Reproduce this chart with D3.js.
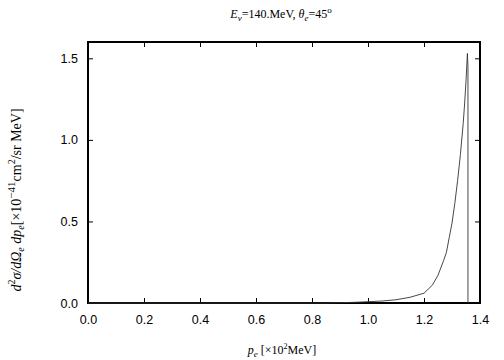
<!DOCTYPE html>
<meta charset="utf-8">
<script src="https://d3js.org/d3.v7.min.js"></script>
<style>
  body { margin: 0; background: #fff; }
  .tick text { font-family: "Liberation Sans", Arial, sans-serif; font-size: 12.5px; }
  .lbl { font-family: "Liberation Serif", "Times New Roman", serif; font-size: 12px; }
</style>
<div id="chart"></div>
<script>
  // curve: p_e in 10^2 MeV, cross section in 10^-41 cm^2/sr MeV
  const pe = [0.0, 0.85, 0.90, 0.95, 1.00, 1.05, 1.10, 1.15, 1.20, 1.23, 1.25, 1.27, 1.28, 1.29, 1.30,
              1.31, 1.32, 1.33, 1.34, 1.345, 1.35, 1.355, 1.357, 1.357];
  const xsec = [0.0, 0.0, 0.002, 0.004, 0.008, 0.012, 0.02, 0.035, 0.06, 0.11, 0.17, 0.26, 0.31, 0.40, 0.49,
                0.61, 0.75, 0.91, 1.10, 1.22, 1.36, 1.53, 1.45, 0.0];
  const xTicks = [0.0, 0.2, 0.4, 0.6, 0.8, 1.0, 1.2, 1.4];
  const yTicks = [0.0, 0.5, 1.0, 1.5];

  const margin = {top: 42, right: 24, bottom: 57, left: 88};
  const W = 504, H = 360;
  const width = W - margin.left - margin.right;
  const height = H - margin.top - margin.bottom;

  const svg = d3.select("#chart").append("svg")
      .attr("width", W).attr("height", H);
  const g = svg.append("g")
      .attr("transform", "translate(" + margin.left + "," + margin.top + ")");

  const x = d3.scaleLinear().domain([0, 1.4]).range([0, width]);
  const y = d3.scaleLinear().domain([0, 1.6]).range([height, 0]);

  // axes with inward ticks, mirrored on top and right
  g.append("g").attr("transform", "translate(0," + height + ")")
      .call(d3.axisBottom(x).tickValues(xTicks).tickFormat(d3.format(".1f")).tickSizeInner(-5).tickSizeOuter(0).tickPadding(12));
  g.append("g")
      .call(d3.axisLeft(y).tickValues(yTicks).tickFormat(d3.format(".1f")).tickSizeInner(-5).tickSizeOuter(0).tickPadding(10));
  g.append("g").call(d3.axisTop(x).tickValues(xTicks).tickFormat("").tickSizeInner(-5).tickSizeOuter(0));
  g.append("g").attr("transform", "translate(" + width + ",0)")
      .call(d3.axisRight(y).tickValues(yTicks).tickFormat("").tickSizeInner(-5).tickSizeOuter(0));
  g.selectAll(".domain").remove();
  g.selectAll(".tick line").attr("stroke", "#000").attr("stroke-width", 1);
  g.selectAll(".tick text").attr("fill", "#000");

  g.append("rect")
      .attr("width", width).attr("height", height)
      .attr("fill", "none").attr("stroke", "#000").attr("stroke-width", 2);

  const line = d3.line().x((d, i) => x(pe[i])).y(d => y(d));
  g.append("path")
      .datum(xsec)
      .attr("d", line)
      .attr("fill", "none")
      .attr("stroke", "#333")
      .attr("stroke-width", 0.9);

  // title
  const t = svg.append("text").attr("class", "lbl")
      .attr("x", margin.left + width / 2 - 3).attr("y", 18).attr("text-anchor", "middle");
  t.append("tspan").attr("font-style", "italic").text("E");
  t.append("tspan").attr("font-style", "italic").attr("font-size", "9px").attr("dy", 3).text("ν");
  t.append("tspan").attr("dy", -3).text("=140.MeV,  ");
  t.append("tspan").attr("font-style", "italic").text("θ");
  t.append("tspan").attr("font-style", "italic").attr("font-size", "9px").attr("dy", 3).text("e");
  t.append("tspan").attr("dy", -3).text("=45");
  t.append("tspan").attr("font-size", "9px").attr("dy", -5).text("o");

  // x label
  const xl = svg.append("text").attr("class", "lbl")
      .attr("x", margin.left + width / 2 - 2).attr("y", 354).attr("text-anchor", "middle");
  xl.append("tspan").attr("font-style", "italic").text("p");
  xl.append("tspan").attr("font-style", "italic").attr("font-size", "9px").attr("dy", 3).text("e");
  xl.append("tspan").attr("dy", -3).text(" [×10");
  xl.append("tspan").attr("font-size", "8px").attr("dy", -5).text("2");
  xl.append("tspan").attr("dy", 5).text("MeV]");

  // y label
  const yl = svg.append("text").attr("class", "lbl").style("font-size", "14px")
      .attr("transform", "translate(21,200) rotate(-90)").attr("text-anchor", "middle");
  yl.append("tspan").attr("font-style", "italic").text("d");
  yl.append("tspan").attr("font-size", "10px").attr("dy", -6).text("2");
  yl.append("tspan").attr("font-style", "italic").attr("dy", 6).text("σ/dΩ");
  yl.append("tspan").attr("font-style", "italic").attr("font-size", "10px").attr("dy", 3).text("e");
  yl.append("tspan").attr("font-style", "italic").attr("dy", -3).text(" dp");
  yl.append("tspan").attr("font-style", "italic").attr("font-size", "10px").attr("dy", 3).text("e");
  yl.append("tspan").attr("dy", -3).text("[×10");
  yl.append("tspan").attr("font-size", "11px").attr("dy", -6).text("−41");
  yl.append("tspan").attr("dy", 6).text("cm");
  yl.append("tspan").attr("font-size", "10px").attr("dy", -6).text("2");
  yl.append("tspan").attr("dy", 6).text("/sr MeV]");
</script>
